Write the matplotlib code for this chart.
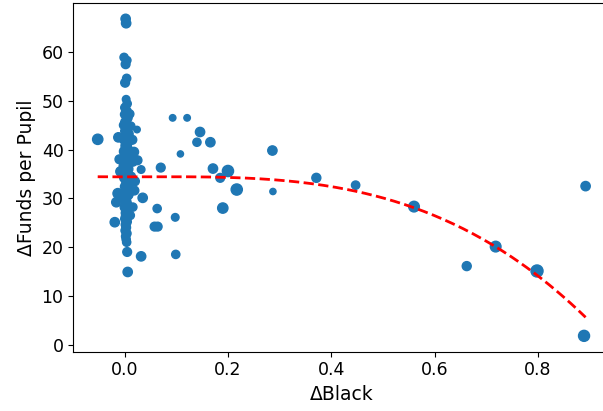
import numpy as np
import matplotlib
matplotlib.use('Agg')
import matplotlib.pyplot as plt

# change in share of Black students vs change in funds per pupil
d_black = [
    # main column near zero
    0.002, 0.003, -0.001, 0.005, 0.002, 0.004, 0.001, 0.003, 0.005, 0.001,
    0.004, 0.000, 0.006, 0.002, -0.002, 0.004, 0.001, 0.007, 0.003, -0.001,
    0.005, 0.002, 0.006, 0.000, 0.003, 0.008, 0.001, 0.004, -0.002, 0.006,
    0.002, 0.005, -0.001, 0.003, 0.007, 0.001, 0.004, 0.002, 0.006, 0.000,
    0.003, 0.005, 0.001, 0.004, 0.002, 0.003, 0.001, 0.004, 0.002, 0.003,
    0.001, 0.004, 0.002, 0.003, 0.004,
    # spread around the column
    -0.012, -0.010, -0.008, -0.013, -0.016, -0.019, 0.012, 0.015, 0.018,
    0.016, 0.020, 0.019, 0.016, 0.010, 0.008, 0.025, 0.011, 0.013,
    0.024, 0.032, 0.035, 0.032, 0.005, 0.006,
    # further out
    -0.052, 0.093, 0.121, 0.146, 0.140, 0.166, 0.108, 0.286, 0.070, 0.171,
    0.200, 0.185, 0.217, 0.287, 0.063, 0.098, 0.190, 0.058, 0.064, 0.099,
    0.371, 0.447, 0.560, 0.662, 0.718, 0.798, 0.892, 0.889,
]
d_funds = [
    66.8, 65.9, 58.9, 58.3, 57.5, 54.6, 53.7, 50.3, 49.4, 48.6,
    47.8, 47.2, 46.5, 45.6, 45.0, 44.5, 43.8, 43.2, 42.6, 42.0,
    41.4, 40.8, 40.2, 39.6, 39.0, 38.4, 37.8, 37.2, 36.6, 36.0,
    35.4, 34.8, 34.2, 33.6, 33.0, 32.4, 31.8, 31.2, 30.6, 30.0,
    29.4, 28.8, 28.2, 27.6, 27.0, 26.4, 25.8, 25.2, 24.6, 24.0,
    23.4, 22.8, 22.2, 21.6, 21.0,
    42.5, 38.0, 35.5, 31.0, 29.2, 25.1, 44.8, 42.0, 39.5,
    37.5, 33.5, 31.6, 28.2, 47.3, 30.8, 37.8, 26.5, 34.5,
    44.1, 35.9, 30.1, 18.1, 19.0, 14.9,
    42.1, 46.5, 46.5, 43.6, 41.5, 41.5, 39.1, 39.8, 36.3, 36.1,
    35.6, 34.2, 31.8, 31.4, 27.9, 26.1, 28.0, 24.2, 24.2, 18.5,
    34.2, 32.7, 28.3, 16.1, 20.1, 15.1, 32.5, 1.8,
]
enrollment = [
    45, 45, 35, 30, 40, 35, 40, 30, 35, 40,
    45, 35, 40, 50, 35, 45, 40, 50, 45, 40,
    50, 45, 40, 55, 45, 40, 50, 45, 40, 55,
    45, 50, 40, 45, 50, 45, 55, 40, 45, 50,
    45, 40, 50, 45, 40, 45, 40, 45, 40, 40,
    35, 40, 35, 35, 35,
    45, 40, 45, 50, 45, 45, 35, 40, 45,
    40, 40, 40, 35, 35, 40, 40, 35, 35,
    22, 30, 45, 45, 40, 45,
    55, 22, 22, 45, 35, 45, 20, 45, 40, 45,
    65, 40, 65, 20, 35, 30, 55, 40, 40, 35,
    42, 36, 59, 42, 59, 75, 45, 63,
]

# cubic trend fitted to the points
trend_coefs = [-48.2, 6.8, 0.0, 34.4]

fig = plt.figure(figsize=(6.03, 4.11), dpi=100)
ax = fig.add_axes([0.1216, 0.1443, 0.890, 0.8484])

ax.scatter(d_black, d_funds, s=enrollment, color='#1f77b4')

xs = np.linspace(min(d_black), max(d_black), 200)
ax.plot(xs, np.polyval(trend_coefs, xs), 'r--', linewidth=2)

ax.set_xlabel('ΔBlack', fontsize=13.5)
ax.set_ylabel('ΔFunds per Pupil', fontsize=13.5)
ax.tick_params(labelsize=12.5)
ax.set_xticks([0.0, 0.2, 0.4, 0.6, 0.8])
ax.set_yticks(range(0, 61, 10))

fig.savefig('out.png', dpi=100)
